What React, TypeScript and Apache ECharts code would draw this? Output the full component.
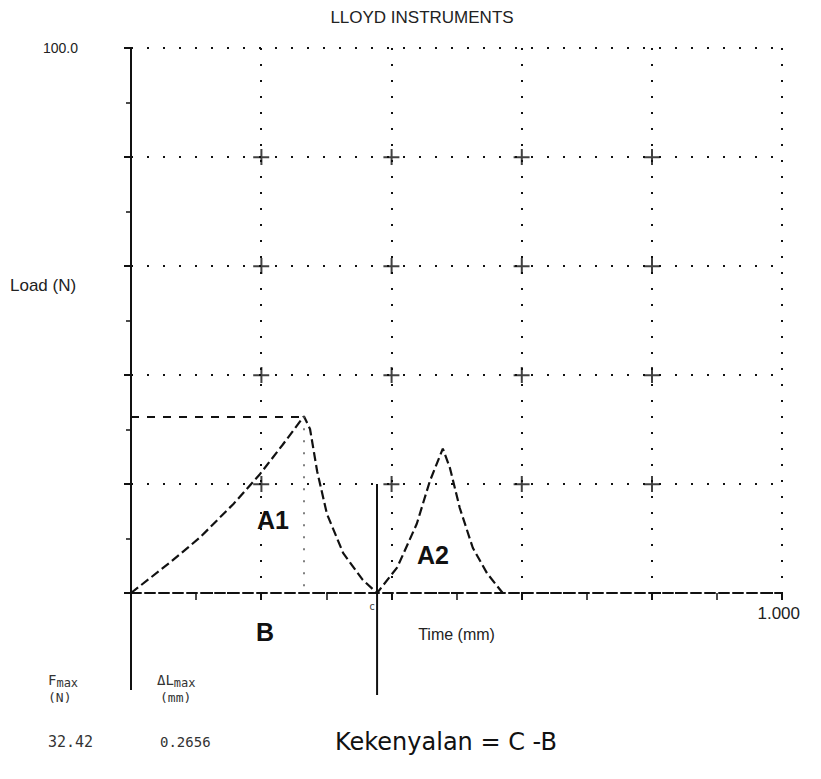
import React, { useEffect, useRef } from 'react';
import * as echarts from 'echarts';

// Curve: extension (mm) vs load (N)
const curveX = [0, 0.06, 0.106, 0.157, 0.198, 0.233, 0.2656, 0.275, 0.286, 0.301, 0.326, 0.356, 0.378, 0.409, 0.439, 0.459, 0.479, 0.49, 0.505, 0.525, 0.547, 0.571];
const curveY = [0, 5.6, 10.2, 16.3, 21.8, 27.2, 32.42, 30.1, 22.3, 14.5, 7.3, 2.4, 0, 4.7, 12.7, 20.5, 26.5, 22.9, 15.6, 8.3, 3.6, 0];
const gridXs = [0.2, 0.4, 0.6, 0.8];
const gridYs = [20, 40, 60, 80];
const FMAX = 32.42;
const DLMAX = 0.2656;
const C_POS = 0.378;
const C_TOP = 20;

const mono = 'DejaVu Sans Mono, monospace';
const narrow = 'Liberation Sans, Arial, sans-serif';

export default function App() {
  const ref = useRef<HTMLDivElement>(null);
  useEffect(() => {
    const chart = echarts.init(ref.current!, null, { renderer: 'svg' });
    const ink = '#111';
    chart.setOption({
      animation: false,
      backgroundColor: '#fff',
      grid: { left: 131, right: 39, top: 48, bottom: 186 },
      xAxis: {
        type: 'value', min: 0, max: 1, interval: 0.2,
        axisLine: { show: true, lineStyle: { color: ink, width: 2, type: [10, 4] } },
        axisTick: { show: true, length: 7, lineStyle: { color: ink, width: 2 } },
        minorTick: { show: true, splitNumber: 2, length: 7, lineStyle: { color: ink, width: 1.5 } },
        splitLine: { show: true, lineStyle: { color: ink, width: 2, type: [2, 14] } },
        axisLabel: {
          formatter: (v: number) => (Math.abs(v - 1) < 1e-9 ? '1.000' : ''),
          margin: 12, fontSize: 17, color: '#222', fontFamily: narrow,
          align: 'right', padding: [0, -18, 0, 0],
        },
        name: 'Time (mm)', nameLocation: 'middle', nameGap: 25,
        nameTextStyle: { fontSize: 16, color: '#222', fontFamily: narrow },
      },
      yAxis: {
        type: 'value', min: 0, max: 100, interval: 20,
        axisLine: { show: true, lineStyle: { color: ink, width: 2 } },
        axisTick: { show: true, length: 7, lineStyle: { color: ink, width: 2 } },
        minorTick: { show: true, splitNumber: 2, length: 5, lineStyle: { color: ink, width: 1.5 } },
        splitLine: { show: true, lineStyle: { color: ink, width: 2, type: [2, 14] } },
        axisLabel: {
          formatter: (v: number) => (v === 100 ? '100.0' : ''),
          margin: 53, fontSize: 14, color: '#222', fontFamily: narrow,
        },
      },
      series: [
        {
          type: 'scatter',
          data: gridXs.flatMap((x) => gridYs.map((y) => [x, y])),
          symbol: 'path://M0,9H20V11.5H0Z M9,0H11.5V20H9Z',
          symbolSize: 16,
          itemStyle: { color: ink },
          silent: true,
          z: 1,
        },
        {
          type: 'line',
          data: curveX.map((x, i) => [x, curveY[i]]),
          symbol: 'none',
          lineStyle: { color: ink, width: 2.2, type: [9, 4] },
          z: 3,
          markLine: {
            silent: true,
            symbol: ['none', 'none'],
            label: { show: false },
            data: [
              [
                { coord: [0, FMAX], lineStyle: { color: ink, width: 2, type: [8, 8] } },
                { coord: [DLMAX, FMAX] },
              ],
              [
                { coord: [DLMAX, FMAX], lineStyle: { color: '#555', width: 1.5, type: [2, 10] } },
                { coord: [DLMAX, 0] },
              ],
              [
                { coord: [C_POS, C_TOP], lineStyle: { color: ink, width: 2, type: 'solid' } },
                { coord: [C_POS, 0] },
              ],
            ],
          },
        },
      ],
    });

    const p0 = chart.convertToPixel({ gridIndex: 0 }, [0, 0]) as number[];
    const pc = chart.convertToPixel({ gridIndex: 0 }, [C_POS, 0]) as number[];

    const txt = (x: number, y: number, text: string, font: string, extra: any = {}) => ({
      type: 'text', x, y,
      style: { text, font, fill: '#111', textVerticalAlign: 'middle', ...extra },
    });

    chart.setOption({
      graphic: [
        { type: 'line', shape: { x1: p0[0], y1: p0[1], x2: p0[0], y2: 690 }, style: { stroke: ink, lineWidth: 2 } },
        { type: 'line', shape: { x1: pc[0], y1: pc[1], x2: pc[0], y2: 695 }, style: { stroke: ink, lineWidth: 2 } },
        txt(422, 17, 'LLOYD INSTRUMENTS', `17px ${narrow}`, { textAlign: 'center', fill: '#222' }),
        txt(10, 285, 'Load (N)', `17px ${narrow}`, { fill: '#222' }),
        txt(257, 520, 'A1', `bold 25px Liberation Sans, Arial, sans-serif`),
        txt(417, 555, 'A2', `bold 25px Liberation Sans, Arial, sans-serif`),
        txt(256, 632, 'B', `bold 25px Liberation Sans, Arial, sans-serif`),
        txt(369, 606, 'c', `10px ${mono}`, { fill: '#444' }),
        {
          type: 'text', x: 48, y: 680,
          style: {
            text: '{a|F}{b|max}', textVerticalAlign: 'middle', fill: '#333',
            rich: { a: { fontSize: 14, fontFamily: mono, fill: '#333' }, b: { fontSize: 12, fontFamily: mono, fill: '#333', padding: [6, 0, 0, 0] } },
          },
        },
        txt(48, 697, '(N)', `13px ${mono}`, { fill: '#333' }),
        txt(48, 742, '32.42', `15px ${mono}`, { fill: '#333' }),
        {
          type: 'text', x: 157, y: 680,
          style: {
            text: '{a|ΔL}{b|max}', textVerticalAlign: 'middle', fill: '#333',
            rich: { a: { fontSize: 14, fontFamily: mono, fill: '#333' }, b: { fontSize: 12, fontFamily: mono, fill: '#333', padding: [6, 0, 0, 0] } },
          },
        },
        txt(160, 697, '(mm)', `13px ${mono}`, { fill: '#333' }),
        txt(160, 742, DLMAX.toFixed(4), `14px ${mono}`, { fill: '#333' }),
        txt(335, 742, 'Kekenyalan = C -B', `24px DejaVu Sans, Verdana, sans-serif`),
      ],
    });

    return () => chart.dispose();
  }, []);
  return <div ref={ref} style={{ position: 'absolute', left: 0, top: 0, width: 821, height: 779 }} />;
}
